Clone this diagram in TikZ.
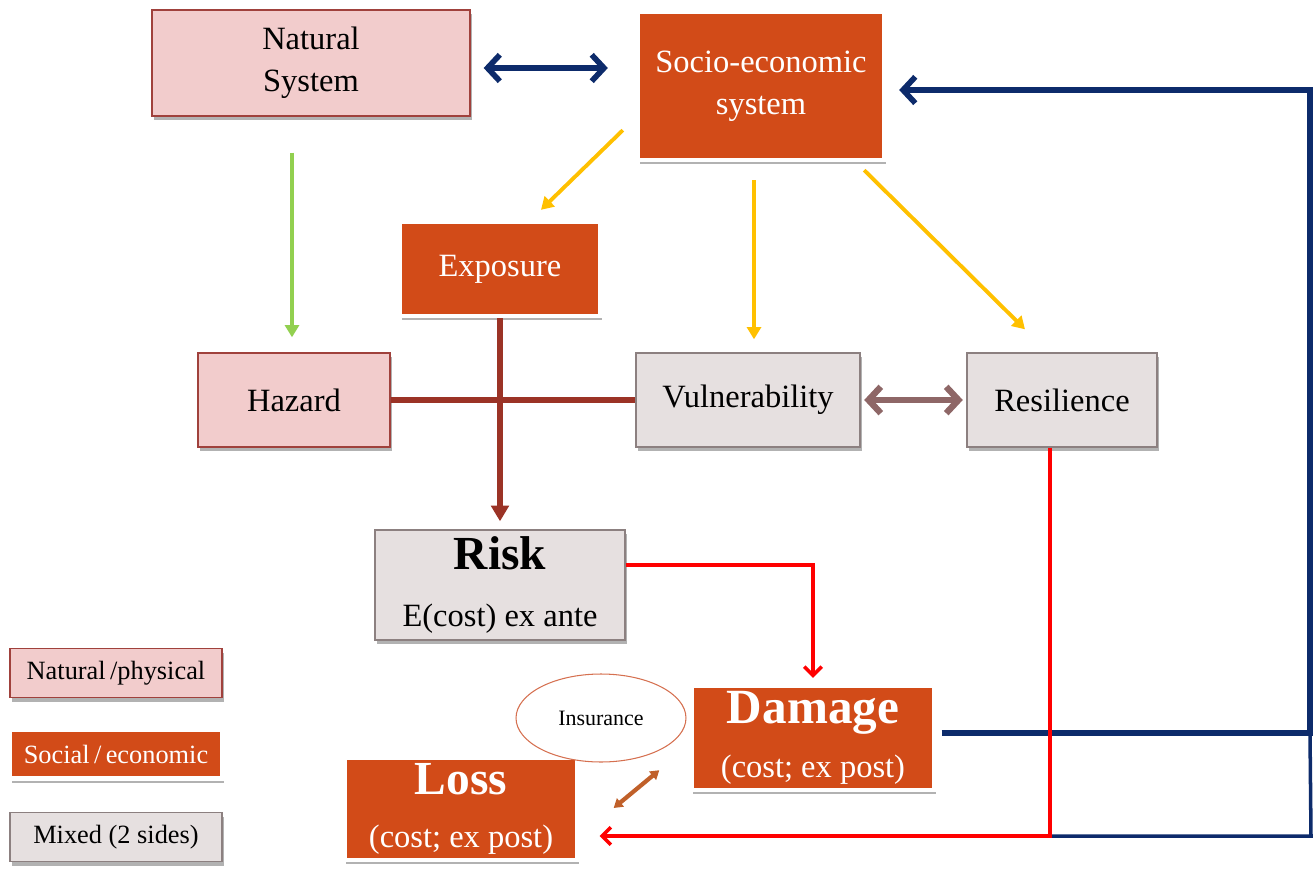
\documentclass[tikz,border=0pt]{standalone}
\usepackage{fontspec}
\setmainfont{Liberation Serif}
\usetikzlibrary{arrows.meta,shadows,shapes.geometric}

\definecolor{natfill}{HTML}{F2CCCC}
\definecolor{natdraw}{HTML}{A0413C}
\definecolor{mixfill}{HTML}{E6E0E0}
\definecolor{mixdraw}{HTML}{8C8080}
\definecolor{socfill}{HTML}{D24B18}
\definecolor{navy}{HTML}{0D2B6B}
\definecolor{gold}{HTML}{FFC000}
\definecolor{leaf}{HTML}{92D050}
\definecolor{rust}{HTML}{9B3326}
\definecolor{mauve}{HTML}{8E6767}
\definecolor{insdraw}{HTML}{D57050}
\definecolor{copper}{HTML}{C0602A}

\tikzset{
  boxshadow/.style={drop shadow={shadow xshift=1pt,shadow yshift=-2.5pt,fill=black,opacity=0.3}},
  basebox/.style={rectangle,inner sep=0pt,align=center,boxshadow,font=\fontsize{18.5}{24}\selectfont},
  natbox/.style={basebox,draw=natdraw,line width=0.8pt,fill=natfill},
  socbox/.style={basebox,draw=white,line width=2.5pt,fill=socfill,text=white},
  mixbox/.style={basebox,draw=mixdraw,line width=0.8pt,fill=mixfill},
  legend/.style={minimum width=4.24cm,minimum height=0.98cm,font=\fontsize{15}{18}\selectfont},
  insnode/.style={ellipse,draw=insdraw,line width=0.6pt,minimum width=3.4cm,minimum height=1.76cm,font=\fontsize{12.5}{15}\selectfont},
  navyline/.style={draw=navy,line width=3.2pt},
  goldline/.style={draw=gold,line width=2.2pt,-{Triangle[length=7pt,width=8pt]}},
  leafline/.style={draw=leaf,line width=2.2pt,-{Triangle[length=7pt,width=8pt]}},
  rustline/.style={draw=rust,line width=3.2pt},
  redline/.style={draw=red,line width=2pt},
  barb/.tip={Straight Barb[length=7pt,width=15pt]},
  smallbarb/.tip={Straight Barb[length=5pt,width=10pt]},
}

\begin{document}
\begin{tikzpicture}[x=0.02cm,y=-0.02cm]
    \useasboundingbox (0,0) rectangle (1316,872);

    \node[natbox,minimum width=6.36cm,minimum height=2.12cm] (natsys) at (311,63) {Natural\\System};
    \node[socbox,minimum width=4.92cm,minimum height=2.96cm] (socio) at (761,86) {Socio-economic\\system};
    \node[socbox,minimum width=4cm,minimum height=1.88cm] (expo) at (500,269) {Exposure};
    \node[natbox,minimum width=3.84cm,minimum height=1.88cm] (hazard) at (294,400) {Hazard};
    \node[mixbox,minimum width=4.48cm,minimum height=1.88cm] (vuln) at (748,400) {Vulnerability};
    \node[mixbox,minimum width=3.8cm,minimum height=1.88cm] (resil) at (1062,400) {Resilience};
    \node[mixbox,minimum width=5cm,minimum height=2.2cm] (risk) at (500,585) {{\fontsize{27}{30}\selectfont\bfseries Risk}\\[9pt]E(cost) ex ante};
    \node[socbox,minimum width=4.86cm,minimum height=2.08cm] (damage) at (813,738) {{\fontsize{28}{30}\selectfont\bfseries Damage}\\[7pt](cost; ex post)};
    \node[socbox,minimum width=4.66cm,minimum height=2.04cm] (loss) at (461,809) {{\fontsize{27}{30}\selectfont\bfseries Loss}\\[6pt](cost; ex post)};
    \node[insnode] (insur) at (601,718) {Insurance};

    \node[natbox,legend] (legnat) at (116,673) {Natural\,/physical};
    \node[socbox,legend] (legsoc) at (116,754) {Social\,/\,economic};
    \node[mixbox,legend] (legmix) at (116,837) {Mixed (2 sides)};

    \coordinate (fbturn) at (1310,733);
    \coordinate (fblow) at (1311,836);
    \coordinate (redturn) at (1050,836);

    \draw[navyline,barb-barb] ([shift={(13,5)}]natsys.east) -- ([shift={(-28,-18)}]socio.west);
    \draw[leafline] ([shift={(-19,36)}]natsys.south) -- ([shift={(-2,-15)}]hazard.north);

    \draw[goldline] ([shift={(-13,-32)}]socio.south west) -- ([shift={(41,-10)}]expo.north);
    \draw[goldline] ([shift={(-7,18)}]socio.south) -- ([shift={(6,-13)}]vuln.north);
    \draw[goldline] ([shift={(-22,8)}]socio.south east) -- ([shift={(-37,-23)}]resil.north);

    \draw[rustline] (hazard.east) -- (vuln.west);
    \draw[rustline,-{Triangle[length=9pt,width=10pt]}] (expo.south) -- ([shift={(0,-8)}]risk.north);
    \draw[draw=mauve,line width=3.6pt,barb-barb] ([xshift=2pt]vuln.east) -- ([xshift=-2pt]resil.west);

    \draw[navyline,-barb] ([shift={(5,-5)}]damage.east) -- (fbturn) |- ([shift={(13,4)}]socio.east);
    \draw[draw=navy,line width=2pt] (redturn) -- (fblow) -- (fbturn);

    \draw[redline,-smallbarb] ([shift={(0,-20)}]risk.east) -| ([shift={(0,-6)}]damage.north);
    \draw[redline,-smallbarb] ([shift={(-12,0)}]resil.south) |- ([shift={(20,27)}]loss.east);

    \draw[draw=copper,line width=2.4pt,{Triangle[length=5pt,width=6pt]}-{Triangle[length=5pt,width=6pt]}] ([shift={(34,-1)}]loss.east) -- ([shift={(-30,-22)}]damage.south west);

\end{tikzpicture}
\end{document}
